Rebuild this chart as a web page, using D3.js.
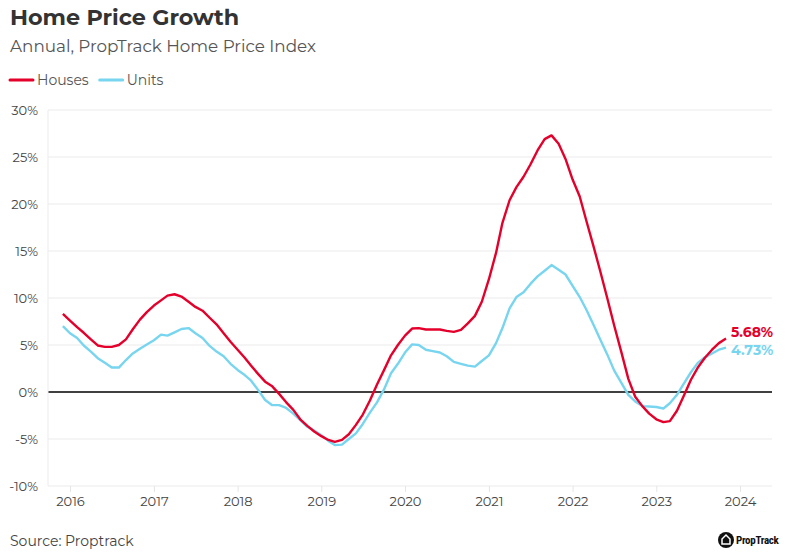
<!DOCTYPE html>
<html><head><meta charset="utf-8">
<script src="https://cdn.jsdelivr.net/npm/d3@7"></script>
<style>body{margin:0;background:#fff}svg{display:block}</style>
</head><body><svg id="c" width="790" height="560"></svg>
<script>
const startYear = 2015, startMonth = 11; // Dec 2015 (0-based month)
const houses = [8.3,7.6,6.9,6.3,5.6,4.95,4.8,4.8,5.0,5.6,6.67,7.7,8.5,9.2,9.75,10.25,10.4,10.15,9.6,9.05,8.65,7.9,7.2,6.25,5.35,4.5,3.65,2.8,1.9,1.1,0.6,-0.2,-1.1,-1.9,-2.9,-3.6,-4.2,-4.7,-5.1,-5.3,-5.1,-4.5,-3.5,-2.4,-0.9,0.8,2.3,3.9,5.0,6.0,6.75,6.8,6.65,6.65,6.65,6.5,6.4,6.6,7.3,8.1,9.6,12.0,14.8,18.0,20.4,21.8,22.9,24.2,25.7,26.9,27.3,26.4,24.8,22.6,20.8,18.3,15.6,12.9,10.0,7.1,4.3,1.4,-0.5,-1.5,-2.3,-2.9,-3.2,-3.1,-2.0,-0.4,1.3,2.6,3.65,4.5,5.2,5.68];
const units = [7.0,6.25,5.75,4.95,4.3,3.6,3.1,2.6,2.6,3.4,4.1,4.6,5.05,5.5,6.1,6.0,6.35,6.7,6.8,6.25,5.75,4.9,4.3,3.8,3.0,2.35,1.8,1.2,0.2,-0.85,-1.4,-1.4,-1.7,-2.3,-3.0,-3.7,-4.1,-4.6,-5.2,-5.65,-5.6,-5.0,-4.4,-3.4,-2.2,-1.1,0.25,2.0,3.0,4.2,5.07,5.0,4.5,4.35,4.2,3.8,3.2,3.0,2.8,2.7,3.3,3.9,5.2,6.8,8.9,10.1,10.6,11.5,12.3,12.9,13.5,13.0,12.5,11.3,10.1,8.8,7.2,5.6,4.0,2.3,1.0,-0.3,-1.0,-1.5,-1.55,-1.6,-1.75,-1.2,-0.3,0.9,2.1,3.1,3.7,4.1,4.5,4.73];
const yTicks = [-10,-5,0,5,10,15,20,25,30];
const xTickYears = [2016,2017,2018,2019,2020,2021,2022,2023,2024];
const seriesNames = ["Houses","Units"];
const colors = {Houses:"#E4002B", Units:"#78D5F0"};
const endLabels = {Houses:"5.68%", Units:"4.73%"};

const font = "Montserrat, 'DejaVu Sans', sans-serif";
const svg = d3.select("#c");
const L = 48, R = 772, T = 110, B = 486;
const dates = houses.map((_, i) => new Date(startYear, startMonth + i, 1));
const x2 = d3.scaleTime().domain([new Date(2016,0,1), new Date(2024,0,1)]).range([70, 740]);
const y = d3.scaleLinear().domain([-10, 30]).range([B, T]);

// title
svg.append("text").attr("x",10).attr("y",25).text("Home Price Growth")
  .attr("font-family",font).attr("font-weight","bold").attr("font-size",22.3).attr("fill","#333");
svg.append("text").attr("x",10).attr("y",52).text("Annual, PropTrack Home Price Index")
  .attr("font-family",font).attr("font-size",16.8).attr("fill","#555");

// legend
const lg = svg.append("g");
let lx = 10;
seriesNames.forEach(n => {
  lg.append("line").attr("x1",lx).attr("x2",lx+23).attr("y1",80).attr("y2",80)
    .attr("stroke",colors[n]).attr("stroke-width",3).attr("stroke-linecap","round");
  const t = lg.append("text").attr("x",lx+27).attr("y",85).text(n)
    .attr("font-family",font).attr("font-size",14).attr("fill","#555");
  lx += 27 + t.node().getComputedTextLength() + 11;
});

// grid
const g = svg.append("g");
g.selectAll("line.grid").data(yTicks).join("line")
  .attr("x1",L).attr("x2",R).attr("y1",d=>y(d)).attr("y2",d=>y(d))
  .attr("stroke",d=>d===0?"#000":"#ebebeb").attr("stroke-width",d=>d===0?1.3:1);
g.append("line").attr("x1",L).attr("x2",L).attr("y1",T).attr("y2",B).attr("stroke","#ebebeb");

// y labels
const yAxis = d3.axisLeft(y).tickValues(yTicks).tickFormat(d=>d+"%").tickSize(0).tickPadding(10);
const ya = svg.append("g").attr("transform",`translate(${L},0)`).call(yAxis);
ya.select(".domain").remove();
ya.selectAll("text").attr("font-family",font).attr("font-size",13).attr("fill","#444");

// x axis
const xAxis = d3.axisBottom(x2).tickValues(xTickYears.map(yr=>new Date(yr,0,1)))
  .tickFormat(d3.timeFormat("%Y")).tickSize(6).tickPadding(5);
const xa = svg.append("g").attr("transform",`translate(0,${B})`).call(xAxis);
xa.select(".domain").remove();
xa.selectAll("line").attr("stroke","#e6e6e6");
xa.selectAll("text").attr("font-family",font).attr("font-size",13).attr("fill","#444");

// lines
const line = d3.line().x((d,i)=>x2(dates[i])).y(d=>y(d));
[["Units",units],["Houses",houses]].forEach(([n,vals])=>{
  svg.append("path").datum(vals).attr("d",line).attr("fill","none")
    .attr("stroke",colors[n]).attr("stroke-width",2.4).attr("stroke-linejoin","round");
});
// end labels
svg.append("text").attr("x",731).attr("y",337).text(endLabels.Houses)
  .attr("font-family",font).attr("font-weight","bold").attr("font-size",14).attr("fill",colors.Houses);
svg.append("text").attr("x",731).attr("y",355).text(endLabels.Units)
  .attr("font-family",font).attr("font-weight","bold").attr("font-size",14).attr("fill",colors.Units);

// source
svg.append("text").attr("x",10).attr("y",546).text("Source: Proptrack")
  .attr("font-family",font).attr("font-size",14).attr("fill","#444");

// logo
const lgo = svg.append("g").attr("transform","translate(726,540)");
lgo.append("circle").attr("r",8).attr("fill","#111");
lgo.append("path").attr("d","M-4,4 L-4,-1 L0,-5 L4,-1 L4,4 Z").attr("fill","none").attr("stroke","#fff").attr("stroke-width",1.5);
lgo.append("text").attr("x",10).attr("y",4).text("PropTrack")
  .attr("font-family","'Roboto Condensed', Roboto, sans-serif").attr("font-weight","bold").attr("font-size",11).attr("fill","#111").attr("letter-spacing","-0.3");
</script></body></html>
